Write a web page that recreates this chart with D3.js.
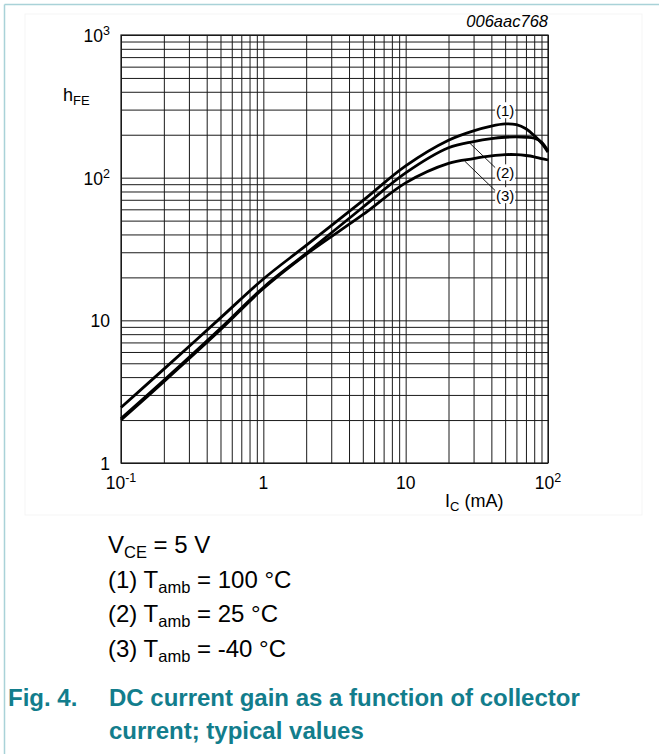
<!DOCTYPE html>
<html>
<head>
<meta charset="utf-8">
<script src="https://cdn.jsdelivr.net/npm/d3@7"></script>
<style>
  body { margin: 0; background: #fff; }
  svg { display: block; font-family: "Liberation Sans", Arial, sans-serif; }
</style>
</head>
<body>
<div id="chart"></div>
<script>
// data: collector current (mA) vs hFE
const currents = [0.1, 0.2, 0.5, 1, 2, 5, 10, 20, 30, 40, 50, 60, 70, 80, 90, 100];
const hfe100 = [2.45, 4.55, 10.4, 19.5, 33.5, 69, 121, 183, 213, 230, 238, 235, 220, 197, 175, 151];
const hfe25 = [2.05, 3.8, 8.8, 17, 29.5, 62, 108, 162, 179, 188, 192, 193, 192, 189, 178, 154];
const hfeM40 = [2.0, 3.72, 8.6, 16.7, 29, 55, 92, 126, 136, 142, 145, 145, 143, 140, 136, 133];

const xTickLabels = [
  { v: 0.1, base: '10', sup: '-1' },
  { v: 1, base: '1', sup: '' },
  { v: 10, base: '10', sup: '' },
  { v: 100, base: '10', sup: '2' },
];
const yTickLabels = [
  { v: 1000, base: '10', sup: '3' },
  { v: 100, base: '10', sup: '2' },
  { v: 10, base: '10', sup: '' },
  { v: 1, base: '1', sup: '' },
];

// curve labels and their leader lines (mA, hFE)
const curveLabels = [
  { text: '(1)', x: 50, y: 297 },
  { text: '(2)', x: 50, y: 109 },
  { text: '(3)', x: 50, y: 75.4 },
];
const leaders = [
  { from: [28.2, 174.6], to: [44.4, 113] },
  { from: [26.0, 130.6], to: [43.7, 79.1] },
];

const legendLines = [
  { pre: 'V', sub: 'CE', post: ' = 5 V' },
  { pre: '(1) T', sub: 'amb', post: ' = 100 °C' },
  { pre: '(2) T', sub: 'amb', post: ' = 25 °C' },
  { pre: '(3) T', sub: 'amb', post: ' = -40 °C' },
];

const width = 659;
const height = 754;
const plot = { left: 121, right: 548, top: 35, bottom: 463 };
const teal = '#127d8c';

const svg = d3.select('#chart')
  .append('svg')
  .attr('width', width)
  .attr('height', height);

// frame around the figure
svg.append('rect')
  .attr('x', 25).attr('y', 14).attr('width', 617).attr('height', 501)
  .attr('fill', 'none').attr('stroke', '#f5f5f5');
svg.append('line')
  .attr('x1', 4.5).attr('x2', width).attr('y1', 4.5).attr('y2', 4.5)
  .attr('stroke', '#a9d2d8').attr('stroke-width', 1.5);
svg.append('line')
  .attr('x1', 4.5).attr('x2', 4.5).attr('y1', 4.5).attr('y2', height)
  .attr('stroke', '#a9d2d8').attr('stroke-width', 1.5);

const xScale = d3.scaleLog().domain([0.1, 100]).range([plot.left, plot.right]);
const yScale = d3.scaleLog().domain([1, 1000]).range([plot.bottom, plot.top]);

// gridlines (every 1..9 of each decade)
const grid = svg.append('g').attr('class', 'grid');
grid.append('g')
  .attr('transform', `translate(0, ${plot.bottom})`)
  .call(d3.axisBottom(xScale).tickValues(xScale.ticks()).tickFormat('').tickSize(-(plot.bottom - plot.top)));
grid.append('g')
  .attr('transform', `translate(${plot.left}, 0)`)
  .call(d3.axisLeft(yScale).tickValues(yScale.ticks()).tickFormat('').tickSize(-(plot.right - plot.left)));
grid.selectAll('.domain').remove();
grid.selectAll('line').attr('stroke', '#1a1a1a').attr('stroke-width', 1);

svg.append('rect')
  .attr('x', plot.left).attr('y', plot.top)
  .attr('width', plot.right - plot.left).attr('height', plot.bottom - plot.top)
  .attr('fill', 'none').attr('stroke', '#1a1a1a').attr('stroke-width', 1.2);

// curves
const line = d3.line()
  .x((d) => xScale(d[0]))
  .y((d) => yScale(d[1]))
  .curve(d3.curveCatmullRom.alpha(0.5));

[hfe100, hfe25, hfeM40].forEach((series) => {
  svg.append('path')
    .datum(currents.map((c, i) => [c, series[i]]))
    .attr('d', line)
    .attr('fill', 'none')
    .attr('stroke', '#000')
    .attr('stroke-width', 2.8)
    .attr('stroke-linejoin', 'round');
});

// leader lines
svg.append('g').selectAll('line')
  .data(leaders)
  .join('line')
  .attr('x1', (d) => xScale(d.from[0]))
  .attr('y1', (d) => yScale(d.from[1]))
  .attr('x2', (d) => xScale(d.to[0]))
  .attr('y2', (d) => yScale(d.to[1]))
  .attr('stroke', '#000')
  .attr('stroke-width', 0.9);

// curve labels with white knock-out
const lbl = svg.append('g').selectAll('g')
  .data(curveLabels)
  .join('g')
  .attr('transform', (d) => `translate(${xScale(d.x)}, ${yScale(d.y)})`);
lbl.append('rect')
  .attr('x', -10).attr('y', -8).attr('width', 20).attr('height', 16)
  .attr('fill', '#fff');
lbl.append('text')
  .attr('text-anchor', 'middle')
  .attr('dy', '0.36em')
  .attr('font-size', 15)
  .text((d) => d.text);

// tick labels
const xl = svg.append('g').selectAll('text')
  .data(xTickLabels)
  .join('text')
  .attr('x', (d) => xScale(d.v))
  .attr('y', 489)
  .attr('text-anchor', 'middle')
  .attr('font-size', 17.5);
xl.append('tspan').text((d) => d.base);
xl.append('tspan').attr('dy', -7).attr('font-size', 12.5).text((d) => d.sup);

const yl = svg.append('g').selectAll('text')
  .data(yTickLabels)
  .join('text')
  .attr('x', 110)
  .attr('y', (d) => yScale(d.v) + 7)
  .attr('text-anchor', 'end')
  .attr('font-size', 17.5);
yl.append('tspan').text((d) => d.base);
yl.append('tspan').attr('dy', -7).attr('font-size', 12.5).text((d) => d.sup);

// axis titles
const yt = svg.append('text').attr('x', 63).attr('y', 101).attr('font-size', 18);
yt.append('tspan').text('h');
yt.append('tspan').attr('dy', 4).attr('font-size', 13).text('FE');

const xt = svg.append('text').attr('x', 445).attr('y', 507).attr('font-size', 18);
xt.append('tspan').text('I');
xt.append('tspan').attr('dy', 4).attr('font-size', 13).text('C');
xt.append('tspan').attr('dy', -4).text(' (mA)');

svg.append('text')
  .attr('x', 548).attr('y', 27)
  .attr('text-anchor', 'end')
  .attr('font-size', 16.5)
  .attr('font-style', 'italic')
  .text('006aac768');

// conditions
const lg = svg.append('g').selectAll('text')
  .data(legendLines)
  .join('text')
  .attr('x', 108)
  .attr('y', (d, i) => 553 + i * 34.7)
  .attr('font-size', 24);
lg.append('tspan').text((d) => d.pre);
lg.append('tspan').attr('dy', 5).attr('font-size', 16.5).text((d) => d.sub);
lg.append('tspan').attr('dy', -5).text((d) => d.post);

// caption
const cap = svg.append('g')
  .attr('fill', teal)
  .attr('font-weight', 'bold')
  .attr('font-size', 24);
cap.append('text').attr('x', 8).attr('y', 706).text('Fig. 4.');
cap.append('text').attr('x', 109).attr('y', 706).text('DC current gain as a function of collector');
cap.append('text').attr('x', 109).attr('y', 739).text('current; typical values');
</script>
</body>
</html>
